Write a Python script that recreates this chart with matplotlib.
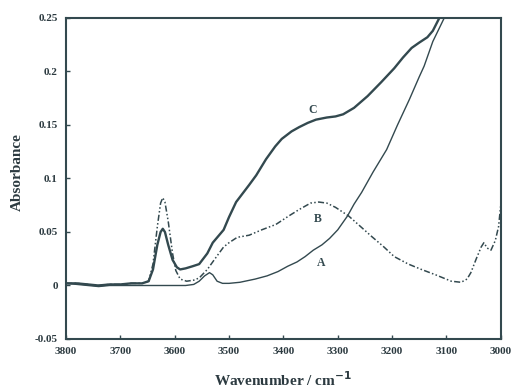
import numpy as np
import matplotlib.pyplot as plt

plt.rcParams['font.family'] = ['Liberation Serif', 'DejaVu Serif']

col = '#33494f'

# curve C (thick solid)
wn_c = [3800, 3780, 3760, 3740, 3720, 3700, 3680, 3660, 3648, 3640, 3632, 3626, 3622, 3618,
        3612, 3604, 3596, 3590, 3580, 3567, 3555, 3540, 3530, 3520, 3510, 3500, 3487, 3475,
        3463, 3450, 3432, 3415, 3403, 3385, 3371, 3355, 3340, 3320, 3304, 3290, 3270, 3245,
        3220, 3196, 3180, 3164, 3150, 3135, 3125, 3113]
ab_c = [0.002, 0.002, 0.001, 0.000, 0.001, 0.001, 0.002, 0.002, 0.004, 0.015, 0.038, 0.050,
        0.053, 0.050, 0.038, 0.024, 0.017, 0.015, 0.016, 0.018, 0.020, 0.030, 0.040, 0.046,
        0.052, 0.064, 0.078, 0.086, 0.094, 0.103, 0.118, 0.130, 0.137, 0.144, 0.148, 0.152,
        0.155, 0.157, 0.158, 0.160, 0.166, 0.177, 0.190, 0.203, 0.213, 0.222, 0.227, 0.232,
        0.238, 0.250]

# curve B (dash-dot-dot)
wn_b = [3800, 3780, 3760, 3740, 3720, 3700, 3680, 3660, 3648, 3640, 3632, 3626, 3622, 3618,
        3612, 3604, 3598, 3590, 3578, 3565, 3555, 3540, 3523, 3510, 3500, 3485, 3463, 3440,
        3414, 3390, 3371, 3350, 3335, 3320, 3304, 3280, 3260, 3238, 3215, 3196, 3170, 3146,
        3120, 3091, 3073, 3062, 3055, 3045, 3036, 3031, 3025, 3018, 3010, 3004, 3000]
ab_b = [0.002, 0.002, 0.001, 0.000, 0.001, 0.001, 0.002, 0.002, 0.004, 0.020, 0.055, 0.077,
        0.082, 0.078, 0.060, 0.030, 0.014, 0.006, 0.004, 0.005, 0.007, 0.015, 0.027, 0.036,
        0.040, 0.045, 0.047, 0.052, 0.057, 0.065, 0.071, 0.077, 0.078, 0.077, 0.073, 0.065,
        0.056, 0.046, 0.036, 0.027, 0.020, 0.015, 0.010, 0.004, 0.003, 0.006, 0.012, 0.025,
        0.036, 0.040, 0.035, 0.033, 0.042, 0.055, 0.075]

# curve A (thin solid)
wn_a = [3800, 3780, 3760, 3740, 3720, 3700, 3680, 3660, 3640, 3620, 3600, 3580, 3565, 3555,
        3545, 3536, 3530, 3522, 3512, 3500, 3480, 3452, 3430, 3410, 3392, 3375, 3360, 3345,
        3329, 3315, 3300, 3282, 3270, 3256, 3235, 3210, 3190, 3168, 3150, 3141, 3125, 3104]
ab_a = [0.002, 0.001, 0.000, -0.001, 0.000, 0.000, 0.000, 0.000, 0.000, 0.000, 0.000, 0.000,
        0.001, 0.004, 0.009, 0.012, 0.010, 0.004, 0.002, 0.002, 0.003, 0.006, 0.009, 0.013,
        0.018, 0.022, 0.027, 0.033, 0.038, 0.044, 0.052, 0.065, 0.076, 0.087, 0.106, 0.127,
        0.150, 0.174, 0.195, 0.205, 0.228, 0.250]

labels = ['C', 'B', 'A']
label_wn = [3346, 3337, 3331]
label_ab = [0.164, 0.062, 0.021]

fig = plt.figure(figsize=(5.12, 3.91), dpi=100)
ax = fig.add_axes([0.129, 0.133, 0.849, 0.821])

ax.plot(wn_c, ab_c, color=col, lw=1.7)
ax.plot(wn_b, ab_b, color=col, lw=1.1, linestyle=(0, (4, 1.5, 1, 1.5, 1, 1.5)))
ax.plot(wn_a, ab_a, color=col, lw=1.0)

for t, x, y in zip(labels, label_wn, label_ab):
    ax.text(x, y, t, fontsize=8.5, fontweight='bold', color=col, ha='center', va='center')

ax.set_xlim(3800, 3000)
ax.set_ylim(-0.05, 0.25)
ax.set_xticks(np.arange(3800, 2999, -100))
ax.set_yticks([-0.05, 0, 0.05, 0.1, 0.15, 0.2, 0.25])
ax.set_yticklabels(['-0.05', '0', '0.05', '0.1', '0.15', '0.2', '0.25'])
ax.tick_params(direction='in', length=3, width=1, color=col, labelsize=8,
               labelcolor='#2c3a40', pad=6)
for lab in ax.get_xticklabels() + ax.get_yticklabels():
    lab.set_fontweight('bold')
for s in ax.spines.values():
    s.set_color(col)
    s.set_linewidth(1.5)

ax.set_xlabel('Wavenumber / cm$^{\\mathbf{-1}}$', fontsize=11, fontweight='bold',
              color='#2c3a40', labelpad=10)
ax.set_ylabel('Absorbance', fontsize=11, fontweight='bold', color='#2c3a40')
ax.yaxis.set_label_coords(-0.097, 0.52)

fig.savefig('out.png', dpi=100)
